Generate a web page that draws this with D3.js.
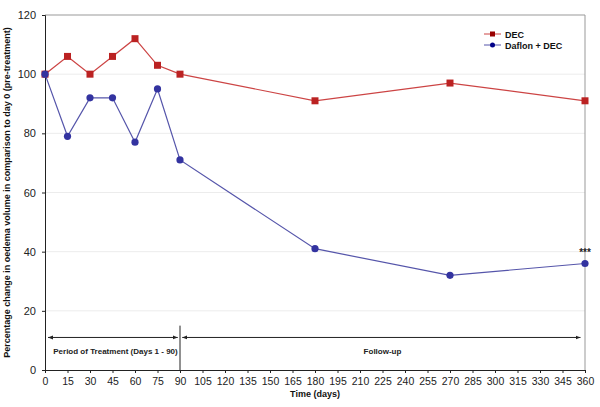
<!DOCTYPE html>
<html>
<head>
<meta charset="utf-8">
<script src="https://cdn.jsdelivr.net/npm/d3@7"></script>
<style>
  body { margin: 0; background: #fff; }
  text { font-family: "Liberation Sans", Arial, sans-serif; }
</style>
</head>
<body>
<div id="chart"></div>
<script>
// Chart data
const days = [0, 15, 30, 45, 60, 75, 90, 180, 270, 360];
const decValues = [100, 106, 100, 106, 112, 103, 100, 91, 97, 91];
const daflonValues = [100, 79, 92, 92, 77, 95, 71, 41, 32, 36];
const xTicks = d3.range(0, 361, 15);
const yTicks = [0, 20, 40, 60, 80, 100, 120];

const width = 600, height = 407;
const margin = { top: 15, right: 15, bottom: 37, left: 45 };

const svg = d3.select('#chart').append('svg')
    .attr('width', width)
    .attr('height', height);

const x = d3.scaleLinear().domain([0, 360]).range([margin.left, width - margin.right]);
const y = d3.scaleLinear().domain([0, 120]).range([height - margin.bottom, margin.top]);

// light gridlines
svg.append('g')
    .selectAll('line')
    .data(yTicks.filter(d => d > 0 && d < 120))
    .enter().append('line')
    .attr('x1', x(0)).attr('x2', x(360))
    .attr('y1', d => y(d)).attr('y2', d => y(d))
    .attr('stroke', '#ececec')
    .attr('stroke-width', 1);

// grey frame top and right
svg.append('path')
    .attr('d', `M${x(0)},${y(120)}H${x(360)}V${y(0)}`)
    .attr('fill', 'none')
    .attr('stroke', '#999')
    .attr('stroke-width', 1);

// axes
const xAxis = svg.append('g')
    .attr('transform', `translate(0,${y(0)})`)
    .call(d3.axisBottom(x).tickValues(xTicks).tickSize(3).tickPadding(5));
const yAxis = svg.append('g')
    .attr('transform', `translate(${x(0)},0)`)
    .call(d3.axisLeft(y).tickValues(yTicks).tickSize(3).tickPadding(6));

[xAxis, yAxis].forEach(a => {
    a.select('.domain').attr('stroke', '#222');
    a.selectAll('.tick line').attr('stroke', '#222');
    a.selectAll('.tick text')
        .style('font-size', '10.5px')
        .attr('fill', '#222');
});
yAxis.selectAll('.tick text').style('font-size', '11px');

// period annotations
const arrowY = y(11);
const defs = svg.append('defs');
defs.append('marker')
    .attr('id', 'arr')
    .attr('viewBox', '0 0 10 10')
    .attr('refX', 10).attr('refY', 5)
    .attr('markerWidth', 5).attr('markerHeight', 5)
    .attr('orient', 'auto-start-reverse')
    .append('path')
    .attr('d', 'M0,1L10,5L0,9Z')
    .attr('fill', '#222');

svg.append('line')
    .attr('x1', x(2)).attr('x2', x(88.5))
    .attr('y1', arrowY).attr('y2', arrowY)
    .attr('stroke', '#222').attr('stroke-width', 1)
    .attr('marker-start', 'url(#arr)')
    .attr('marker-end', 'url(#arr)');

svg.append('line')
    .attr('x1', x(91.5)).attr('x2', x(357))
    .attr('y1', arrowY).attr('y2', arrowY)
    .attr('stroke', '#222').attr('stroke-width', 1)
    .attr('marker-start', 'url(#arr)')
    .attr('marker-end', 'url(#arr)');

svg.append('line')
    .attr('x1', x(90)).attr('x2', x(90))
    .attr('y1', y(15)).attr('y2', y(0))
    .attr('stroke', '#222').attr('stroke-width', 1);

svg.append('text')
    .attr('x', x(47)).attr('y', y(5.5))
    .attr('text-anchor', 'middle')
    .style('font-size', '8px')
    .style('font-weight', 'bold')
    .attr('fill', '#222')
    .text('Period of Treatment (Days 1 - 90)');

svg.append('text')
    .attr('x', x(225)).attr('y', y(5.5))
    .attr('text-anchor', 'middle')
    .style('font-size', '8px')
    .style('font-weight', 'bold')
    .attr('fill', '#222')
    .text('Follow-up');

// series
const series = [
    { name: 'DEC', values: decValues, line: '#cc4444', mark: '#bb2222', legend: '#990000', shape: 'square' },
    { name: 'Daflon + DEC', values: daflonValues, line: '#5555aa', mark: '#3333a0', legend: '#000088', shape: 'circle' }
];

const line = d3.line().x(d => x(d[0])).y(d => y(d[1]));

series.forEach(s => {
    const pts = days.map((d, i) => [d, s.values[i]]);
    svg.append('path')
        .datum(pts)
        .attr('d', line)
        .attr('fill', 'none')
        .attr('stroke', s.line)
        .attr('stroke-width', 1.2);
    const g = svg.append('g');
    if (s.shape === 'square') {
        g.selectAll('rect').data(pts).enter().append('rect')
            .attr('x', d => x(d[0]) - 3.5).attr('y', d => y(d[1]) - 3.5)
            .attr('width', 7).attr('height', 7)
            .attr('fill', s.mark);
    } else {
        g.selectAll('circle').data(pts).enter().append('circle')
            .attr('cx', d => x(d[0])).attr('cy', d => y(d[1]))
            .attr('r', 3.6)
            .attr('fill', s.mark);
    }
});

// significance marker
svg.append('text')
    .attr('x', x(360)).attr('y', y(36) - 8)
    .attr('text-anchor', 'middle')
    .style('font-size', '10px')
    .style('font-weight', 'bold')
    .attr('fill', '#222')
    .text('***');

// legend
const legend = svg.append('g').attr('transform', 'translate(484,34)');
series.forEach((s, i) => {
    const row = legend.append('g').attr('transform', `translate(0,${i * 11})`);
    row.append('line')
        .attr('x1', 0).attr('x2', 17)
        .attr('stroke', s.line).attr('stroke-width', 1);
    if (s.shape === 'square') {
        row.append('rect').attr('x', 6).attr('y', -2.5).attr('width', 5).attr('height', 5).attr('fill', s.legend);
    } else {
        row.append('circle').attr('cx', 8.5).attr('r', 2.5).attr('fill', s.legend);
    }
    row.append('text')
        .attr('x', 21).attr('y', 3.5)
        .style('font-size', '9px')
        .style('font-weight', 'bold')
        .attr('fill', '#111')
        .text(s.name);
});

// axis titles
svg.append('text')
    .attr('x', x(180)).attr('y', 397)
    .attr('text-anchor', 'middle')
    .style('font-size', '9px')
    .style('font-weight', 'bold')
    .attr('fill', '#111')
    .text('Time (days)');

svg.append('text')
    .attr('transform', `translate(10,${(y(0) + y(120)) / 2}) rotate(-90)`)
    .attr('text-anchor', 'middle')
    .style('font-size', '9px')
    .style('font-weight', 'bold')
    .attr('fill', '#111')
    .text('Percentage change in oedema volume in comparison to day 0 (pre-treatment)');
</script>
</body>
</html>
